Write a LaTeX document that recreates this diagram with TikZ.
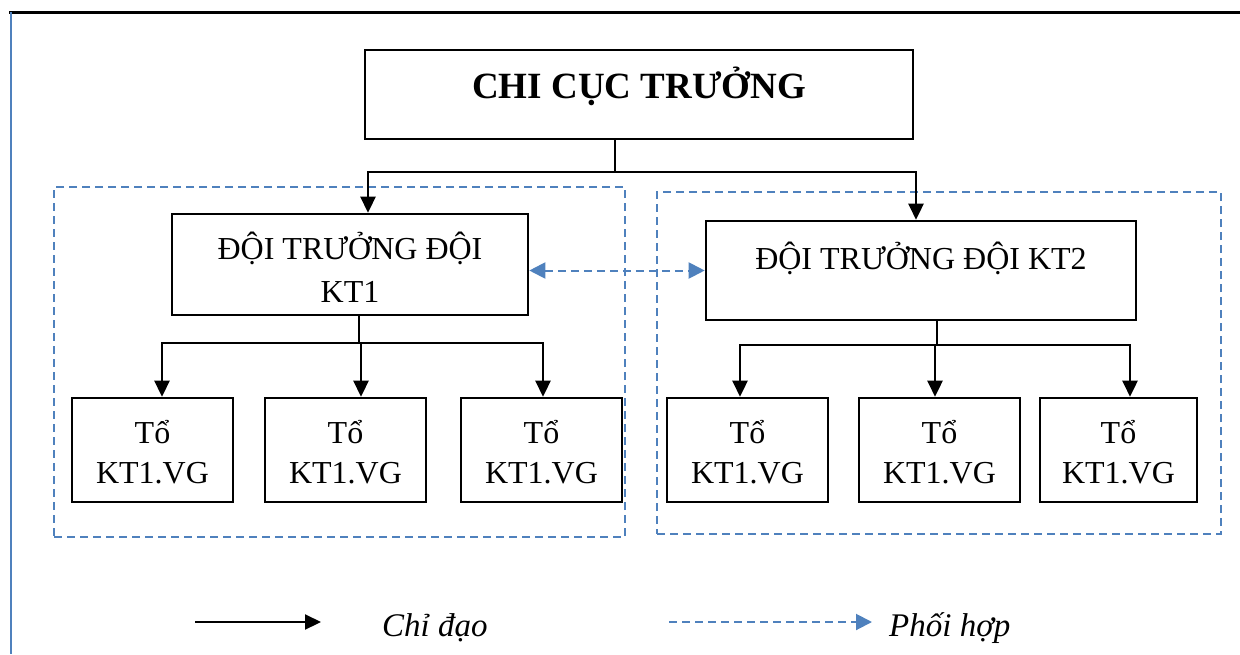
\documentclass[tikz,border=0pt]{standalone}
\usepackage{fontspec}
\setmainfont{Liberation Serif}
\usetikzlibrary{arrows.meta,calc}
\definecolor{ofblue}{RGB}{79,129,189}
\begin{document}
\begin{tikzpicture}[x=1pt,y=-1pt,
  box/.style={draw=black, line width=2.6pt, inner sep=0pt, rectangle},
  txt/.style={inner sep=0pt, font=\fontsize{32}{40}\selectfont, align=center},
  conn/.style={draw=black, line width=2.6pt},
  arr/.style={conn, -{Triangle[length=16pt,width=15pt]}},
  grp/.style={draw=ofblue, line width=1.8pt, dash pattern=on 8pt off 5pt, inner sep=0pt, rectangle},
  coop/.style={draw=ofblue, line width=2pt, dash pattern=on 8pt off 5pt, {Triangle[length=16pt,width=16pt]}-{Triangle[length=16pt,width=16pt]}},
  coopone/.style={draw=ofblue, line width=2pt, dash pattern=on 8pt off 5pt, -{Triangle[length=16pt,width=16pt]}},
  legtxt/.style={inner sep=0pt, anchor=west, font=\itshape\fontsize{33}{40}\selectfont}
]
\useasboundingbox (0,0) rectangle (1240,654);
% page frame
\draw[line width=3pt] (9,12) -- (1240,12);
\draw[ofblue, line width=2.5pt] (11,12) -- (11,654);

% groups
\node[grp, minimum width=571pt, minimum height=350pt] (g1) at (339.5,362) {};
\node[grp, minimum width=564pt, minimum height=342pt] (g2) at (939,363) {};

% title
\node[box, minimum width=548pt, minimum height=89pt] (title) at (639,94.5) {};
\node[inner sep=0pt, font=\bfseries\fontsize{37}{44}\selectfont] (titletxt) at (639,86) {CHI CỤC TRƯỞNG};

% team leaders
\node[box, minimum width=356pt, minimum height=101pt] (kt1) at (350,264.5) {};
\node[txt, font=\fontsize{32}{43}\selectfont] (kt1txt) at (350,267) {ĐỘI TRƯỞNG ĐỘI\\KT1};
\node[box, minimum width=430pt, minimum height=99pt] (kt2) at (921,270.5) {};
\node[txt] (kt2txt) at (921,258) {ĐỘI TRƯỞNG ĐỘI KT2};

% groups of teams
\foreach \n/\cx/\w in {a1/152.5/161, a2/345.5/161, a3/541.5/161, b1/747.5/161, b2/939.5/161, b3/1118.5/157}{
  \node[box, minimum width=\w pt, minimum height=104pt] (\n) at (\cx,450) {};
  \node[txt, font=\fontsize{32}{40}\selectfont] (\n txt) at (\cx,452) {Tổ\\KT1.VG};
}

% connectors from title
\coordinate (tdrop) at ($(title.south)+(-24,0)$);
\coordinate (tj) at (615,172);
\draw[conn, line width=1.6pt] (tdrop) -- (tj);
\draw[arr] (tj) -| ($(kt1.north)+(18,0)$);
\draw[arr] (tj) -| ($(kt2.north)+(-5,0)$);

% KT1 to teams
\coordinate (k1s) at ($(kt1.south)+(9,0)$);
\coordinate (j1) at (359,343);
\draw[conn] (k1s) -- (j1);
\draw[arr] (j1) -| ($(a1.north)+(9.5,0)$);
\draw[arr] (j1) -| ($(a2.north)+(15.5,0)$);
\draw[arr] (j1) -| ($(a3.north)+(1.5,0)$);

% KT2 to teams
\coordinate (k2s) at ($(kt2.south)+(16,0)$);
\coordinate (j2) at (937,345);
\draw[conn] (k2s) -- (j2);
\draw[arr] (j2) -| ($(b1.north)+(-7.5,0)$);
\draw[arr] (j2) -| ($(b2.north)+(-4.5,0)$);
\draw[arr] (j2) -| ($(b3.north)+(11.5,0)$);

% coordination
\draw[coop] (kt1.east |- kt2.west) -- (kt2.west);

% legend
\coordinate (l1s) at (195,622);
\coordinate (l1e) at (321,622);
\draw[conn, line width=2.2pt, -{Triangle[length=16pt,width=15pt]}] (l1s) -- (l1e);
\node[legtxt] (l1t) at (382,628) {Chỉ đạo};
\coordinate (l2s) at (669,622);
\coordinate (l2e) at (872,622);
\draw[coopone] (l2s) -- (l2e);
\node[legtxt] (l2t) at (889,628) {Phối hợp};
\end{tikzpicture}
\end{document}
